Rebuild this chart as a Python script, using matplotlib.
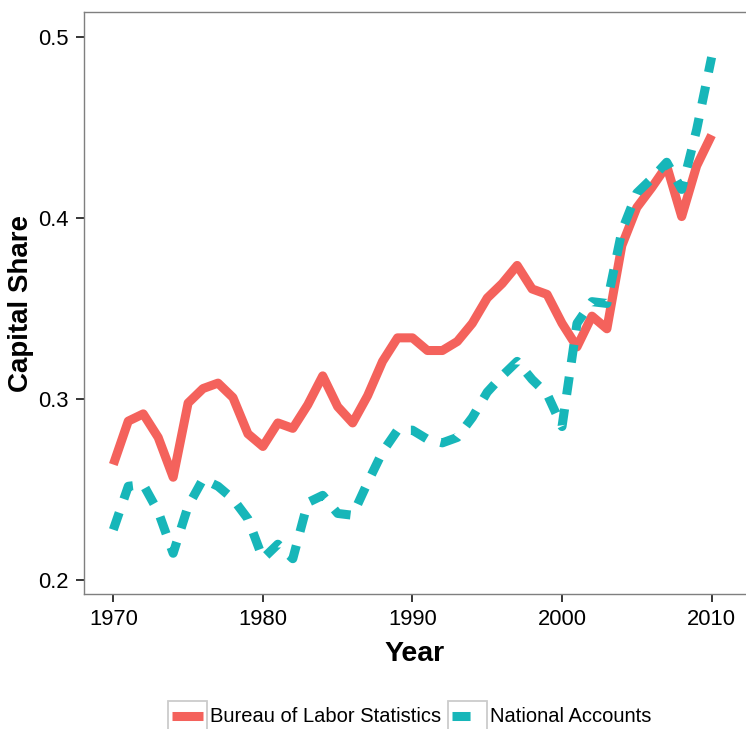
import matplotlib
matplotlib.use("Agg")
import matplotlib.pyplot as plt
from matplotlib.legend_handler import HandlerBase
from matplotlib.patches import Rectangle
from matplotlib.lines import Line2D

years = list(range(1970, 2011))
bls = [0.264, 0.288, 0.292, 0.279, 0.257, 0.298, 0.306, 0.309, 0.301, 0.281,
       0.274, 0.287, 0.284, 0.297, 0.313, 0.296, 0.287, 0.302, 0.321, 0.334,
       0.334, 0.327, 0.327, 0.332, 0.342, 0.356, 0.364, 0.374, 0.361, 0.358,
       0.342, 0.329, 0.346, 0.339, 0.385, 0.406, 0.417, 0.429, 0.401, 0.429,
       0.446]
nat = [0.228, 0.252, 0.253, 0.238, 0.215, 0.241, 0.256, 0.252, 0.245, 0.234,
       0.212, 0.220, 0.212, 0.243, 0.247, 0.237, 0.236, 0.254, 0.271, 0.283,
       0.283, 0.278, 0.276, 0.279, 0.290, 0.304, 0.313, 0.321, 0.311, 0.303,
       0.285, 0.342, 0.354, 0.353, 0.393, 0.414, 0.422, 0.431, 0.416, 0.449,
       0.489]
series_names = ["Bureau of Labor Statistics", "National Accounts"]
x_ticks = [1970, 1980, 1990, 2000, 2010]
y_ticks = [0.2, 0.3, 0.4, 0.5]

RED = "#F4625C"
TEAL = "#17B6B9"
LW = 6.5
DASH = (2.0, 1.6)

plt.rcParams['font.family'] = ['Liberation Sans', 'DejaVu Sans']

fig = plt.figure(figsize=(7.46, 7.29), dpi=100)
W, H = 746, 729
ax = fig.add_axes([84 / W, 1 - 594 / H, (746 - 84) / W, (594 - 12) / H])

ax.plot(years, bls, color=RED, lw=LW, solid_capstyle='butt', solid_joinstyle='round')
ax.plot(years, nat, color=TEAL, lw=LW, linestyle=(0, DASH), dash_capstyle='butt',
        dash_joinstyle='round')

ax.set_xlim(1968.04, 2012.3)
ax.set_ylim(0.1925, 0.514)
ax.set_xticks(x_ticks)
ax.set_xticklabels([str(t) for t in x_ticks])
ax.set_yticks(y_ticks)
ax.set_yticklabels([f"{t:g}" for t in y_ticks])
ax.tick_params(axis='both', length=6, width=1.1, color='black', labelsize=15.8,
               labelcolor='black', pad=5)
for s in ['left', 'bottom', 'top']:
    ax.spines[s].set_color('#7F7F7F')
    ax.spines[s].set_linewidth(1.0)
ax.spines['right'].set_visible(False)

ax.set_xlabel("Year", fontsize=20.5, fontweight='bold')
ax.set_ylabel("Capital Share", fontsize=20, fontweight='bold')
ax.xaxis.set_label_coords(0.5, (594 - 641) / 582)
ax.yaxis.set_label_coords((34 - 84) / 662, 0.5)


class KeyHandler(HandlerBase):
    def __init__(self, color, dashed):
        super().__init__()
        self.color = color
        self.dashed = dashed

    def create_artists(self, legend, orig_handle, xdescent, ydescent, width,
                       height, fontsize, trans):
        x0, y0 = -xdescent, -ydescent
        rect = Rectangle((x0, y0), width, height, facecolor='white',
                         edgecolor='#CCCCCC', lw=1.3, transform=trans)
        yc = y0 + height / 2
        ln = Line2D([x0 + 0.1 * width, x0 + 0.9 * width], [yc, yc], color=self.color,
                    lw=LW, solid_capstyle='butt', dash_capstyle='butt',
                    linestyle=(0, DASH) if self.dashed else '-', transform=trans)
        return [rect, ln]


h1 = Line2D([], [], color=RED)
h2 = Line2D([], [], color=TEAL)
fig.legend([h1, h2], series_names, loc='center',
           bbox_to_anchor=(410 / W, 1 - 716 / H), ncol=2, frameon=False,
           fontsize=14.5, handlelength=1.93, handleheight=1.93, handletextpad=0.15,
           columnspacing=0.35, borderpad=0, borderaxespad=0,
           handler_map={h1: KeyHandler(RED, False), h2: KeyHandler(TEAL, True)})

fig.savefig("out.png", dpi=100)
